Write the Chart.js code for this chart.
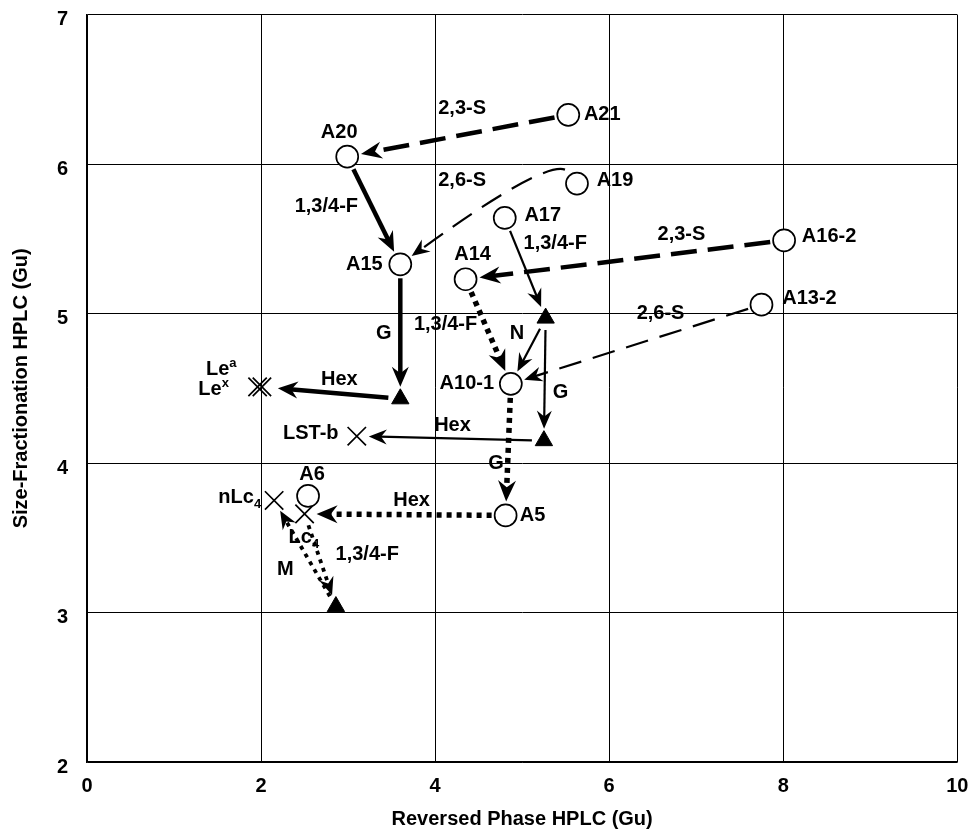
<!DOCTYPE html>
<html><head><meta charset="utf-8">
<script src="https://cdn.jsdelivr.net/npm/chart.js@4"></script>
<style>html,body{margin:0;padding:0;background:#fff}#wrap{width:972px;height:833px;position:relative}</style>
</head><body><div id="wrap"><canvas id="c"></canvas></div>
<script>
// ---------- data ----------
const circleNames = ['A21','A20','A19','A17','A16-2','A15','A14','A13-2','A10-1','A5','A6'];
const circleX = [5.53, 2.99, 5.63, 4.80, 8.01, 3.60, 4.35, 7.75, 4.87, 4.81, 2.54];
const circleY = [6.33, 6.05, 5.87, 5.64, 5.49, 5.33, 5.23, 5.06, 4.53, 3.65, 3.78];

const triangleNames = ['T1','T2','T3','T4'];
const triangleX = [3.60, 5.27, 5.25, 2.86];
const triangleY = [4.43, 4.97, 4.15, 3.04];

const crossNames = ['Le-a','Le-x','LST-b','nLc4','Lc4'];
const crossX = [1.96, 2.01, 3.10, 2.15, 2.50];
const crossY = [4.51, 4.51, 4.18, 3.75, 3.66];

const arrowFrom  = ['A21','A20','A19','A16-2','A17','A14','T2','A13-2','A15','T1','T2','T3','A10-1','A5','Lc4','T4'];
const arrowTo    = ['A20','A15','A15','A14','T2','A10-1','A10-1','A10-1','T1','Le-x','T3','LST-b','A5','Lc4','T4','nLc4'];
const arrowLabel = ['2,3-S','1,3/4-F','2,6-S','2,3-S','1,3/4-F','1,3/4-F','N','2,6-S','G','Hex','G','Hex','G','Hex','1,3/4-F','M'];
const arrowLabelX = [4.31, 2.75, 4.31, 6.83, 5.38, 4.12, 4.94, 6.59, 3.41, 2.90, 5.44, 4.20, 4.70, 3.73, 3.22, 2.28];
const arrowLabelY = [6.37, 5.72, 5.89, 5.53, 5.47, 4.93, 4.87, 5.00, 4.87, 4.56, 4.47, 4.25, 4.00, 3.75, 3.39, 3.29];
const arrowKind  = ['thickDash','solidThick','curveDash','thickDash','solidThin','dotThick','solidThin','thinDash','solidThick','solidThick','solidThin','solidThin','dotThick','dotThick','dotThin','dotThin'];

const xTicks = [0, 2, 4, 6, 8, 10];
const yTicks = [2, 3, 4, 5, 6, 7];
const xTitle = 'Reversed Phase HPLC (Gu)';
const yTitle = 'Size-Fractionation HPLC (Gu)';

// ---------- styles ----------
const FONT = '"Liberation Sans", Arial, Helvetica, sans-serif';
const KIND = {
  thickDash:  {w: 4.5, dash: [26, 11], L: 21, W: 8.5},
  thinDash:   {w: 2.2, dash: [23, 12], L: 18, W: 7.5},
  curveDash:  {w: 2.2, dash: [23, 12], L: 18, W: 7.5, startOff: [-12, -14], ctrl: [-23, -8]},
  solidThick: {w: 4.5, dash: [], L: 20, W: 8.5},
  solidThin:  {w: 2.2, dash: [], L: 18, W: 7.5},
  dotThick:   {w: 5.5, dash: [5, 5], L: 21, W: 9},
  dotThin:    {w: 3.8, dash: [4, 5], L: 18, W: 7.5}
};
const GAP = {circle: 14, triangle: 12, cross: 12, 'Le-x': 16};

const pointLabels = {
  'A21':   {parts: [['A21']], dx: 34, dy: 0},
  'A20':   {parts: [['A20']], dx: -8, dy: -24},
  'A19':   {parts: [['A19']], dx: 38, dy: -3},
  'A17':   {parts: [['A17']], dx: 38, dy: -2},
  'A16-2': {parts: [['A16-2']], dx: 45, dy: -4},
  'A15':   {parts: [['A15']], dx: -36, dy: 0},
  'A14':   {parts: [['A14']], dx: 7, dy: -25},
  'A13-2': {parts: [['A13-2']], dx: 48, dy: -6},
  'A10-1': {parts: [['A10-1']], dx: -44, dy: 0},
  'A5':    {parts: [['A5']], dx: 27, dy: 0},
  'A6':    {parts: [['A6']], dx: 4, dy: -21},
  'LST-b': {parts: [['LST-b']], dx: -46, dy: -3},
  'Le-a':  {parts: [['Le'], ['a', 'sup']], dx: -21, dy: -17, align: 'right'},
  'Le-x':  {parts: [['Le'], ['x', 'sup']], dx: -33, dy: 3, align: 'right'},
  'nLc4':  {parts: [['nLc'], ['4', 'sub']], dx: -13, dy: -3, align: 'right'},
  'Lc4':   {parts: [['Lc'], ['4', 'sub']], dx: -16, dy: 24, align: 'left'}
};

// ---------- helpers ----------
const nodes = {};
circleNames.forEach((n, i) => nodes[n] = {x: circleX[i], y: circleY[i], type: 'circle'});
triangleNames.forEach((n, i) => nodes[n] = {x: triangleX[i], y: triangleY[i], type: 'triangle'});
crossNames.forEach((n, i) => nodes[n] = {x: crossX[i], y: crossY[i], type: 'cross'});

function drawRich(ctx, parts, x, y, align) {
  const nf = 'bold 20px ' + FONT, sf = 'bold 13px ' + FONT;
  const ws = parts.map(p => { ctx.font = p[1] ? sf : nf; return ctx.measureText(p[0]).width; });
  const total = ws.reduce((a, b) => a + b, 0);
  let cx = align === 'right' ? x - total : align === 'left' ? x : x - total / 2;
  ctx.textAlign = 'left';
  ctx.textBaseline = 'middle';
  parts.forEach((p, i) => {
    ctx.font = p[1] ? sf : nf;
    const oy = p[1] === 'sup' ? -6 : p[1] === 'sub' ? 7 : 0;
    ctx.fillText(p[0], cx, y + oy);
    cx += ws[i];
  });
}

function arrowHead(ctx, tip, dir, L, W) {
  const nx = -dir[1], ny = dir[0];
  const bx = tip[0] - dir[0] * L, by = tip[1] - dir[1] * L;
  const mx = tip[0] - dir[0] * L * 0.68, my = tip[1] - dir[1] * L * 0.68;
  ctx.setLineDash([]);
  ctx.beginPath();
  ctx.moveTo(tip[0], tip[1]);
  ctx.lineTo(bx + nx * W, by + ny * W);
  ctx.lineTo(mx, my);
  ctx.lineTo(bx - nx * W, by - ny * W);
  ctx.closePath();
  ctx.fill();
}

const arrowPlugin = {
  id: 'arrows',
  beforeDatasetsDraw(chart) {
    const {ctx, scales: {x, y}} = chart;
    ctx.save();
    ctx.strokeStyle = '#000';
    ctx.fillStyle = '#000';
    ctx.lineCap = 'butt';
    arrowFrom.forEach((f, i) => {
      const a = nodes[f], b = nodes[arrowTo[i]];
      const k = KIND[arrowKind[i]];
      const pa = [x.getPixelForValue(a.x), y.getPixelForValue(a.y)];
      const pb = [x.getPixelForValue(b.x), y.getPixelForValue(b.y)];
      const gA = GAP[f] || GAP[a.type], gB = GAP[arrowTo[i]] || GAP[b.type];
      ctx.lineWidth = k.w;
      ctx.setLineDash(k.dash);
      if (k.ctrl) {
        const s = [pa[0] + k.startOff[0], pa[1] + k.startOff[1]];
        const c = [s[0] + k.ctrl[0], s[1] + k.ctrl[1]];
        let d = [pb[0] - c[0], pb[1] - c[1]];
        const dl = Math.hypot(d[0], d[1]); d = [d[0] / dl, d[1] / dl];
        const tip = [pb[0] - d[0] * gB, pb[1] - d[1] * gB];
        const end = [tip[0] - d[0] * k.L * 0.6, tip[1] - d[1] * k.L * 0.6];
        ctx.beginPath();
        ctx.moveTo(s[0], s[1]);
        ctx.quadraticCurveTo(c[0], c[1], end[0], end[1]);
        ctx.stroke();
        arrowHead(ctx, tip, d, k.L, k.W);
      } else {
        let d = [pb[0] - pa[0], pb[1] - pa[1]];
        const dl = Math.hypot(d[0], d[1]); d = [d[0] / dl, d[1] / dl];
        const s = [pa[0] + d[0] * gA, pa[1] + d[1] * gA];
        const tip = [pb[0] - d[0] * gB, pb[1] - d[1] * gB];
        const end = [tip[0] - d[0] * k.L * 0.6, tip[1] - d[1] * k.L * 0.6];
        ctx.beginPath();
        ctx.moveTo(s[0], s[1]);
        ctx.lineTo(end[0], end[1]);
        ctx.stroke();
        arrowHead(ctx, tip, d, k.L, k.W);
      }
    });
    ctx.restore();
  },
  afterDatasetsDraw(chart) {
    const {ctx, scales: {x, y}} = chart;
    ctx.save();
    ctx.fillStyle = '#000';
    arrowLabel.forEach((t, i) => {
      drawRich(ctx, [[t]], x.getPixelForValue(arrowLabelX[i]), y.getPixelForValue(arrowLabelY[i]), 'center');
    });
    Object.keys(pointLabels).forEach(n => {
      const p = nodes[n], l = pointLabels[n];
      drawRich(ctx, l.parts, x.getPixelForValue(p.x) + l.dx, y.getPixelForValue(p.y) + l.dy, l.align || 'center');
    });
    ctx.restore();
  }
};

const zip = (xs, ys) => xs.map((v, i) => ({x: v, y: ys[i]}));

new Chart(document.getElementById('c'), {
  type: 'scatter',
  data: {
    datasets: [
      {label: 'circles', data: zip(circleX, circleY), pointStyle: 'circle', pointRadius: 11,
       borderColor: '#000', backgroundColor: '#fff', borderWidth: 1.7},
      {label: 'triangles', data: zip(triangleX, triangleY), pointStyle: 'triangle', pointRadius: 10,
       borderColor: '#000', backgroundColor: '#000', borderWidth: 1},
      {label: 'crosses', data: zip(crossX, crossY), pointStyle: 'crossRot', pointRadius: 13,
       borderColor: '#000', backgroundColor: '#000', borderWidth: 1.7}
    ]
  },
  options: {
    responsive: true,
    maintainAspectRatio: false,
    animation: false,
    events: [],
    layout: {padding: {top: 12, right: 12, left: 0, bottom: 0}},
    plugins: {legend: {display: false}, tooltip: {enabled: false}},
    scales: {
      x: {
        type: 'linear', min: 0, max: 10,
        afterBuildTicks: s => { s.ticks = xTicks.map(v => ({value: v})); },
        afterFit: s => { s.height = 71; s.paddingLeft = 0; s.paddingRight = 0; },
        grid: {color: '#000', lineWidth: 1, drawTicks: false},
        border: {display: true, color: '#000', width: 1.6},
        ticks: {color: '#000', padding: 12, font: {family: FONT, size: 20, weight: 'bold'}},
        title: {display: true, text: xTitle, color: '#000', padding: {top: 0, bottom: 2},
                font: {family: FONT, size: 20, weight: 'bold'}}
      },
      y: {
        type: 'linear', min: 2, max: 7,
        afterBuildTicks: s => { s.ticks = yTicks.map(v => ({value: v})); },
        afterFit: s => { s.width = 87; s.paddingTop = 0; s.paddingBottom = 0; },
        grid: {color: '#000', lineWidth: 1, drawTicks: false},
        border: {display: true, color: '#000', width: 1.6},
        ticks: {color: '#000', padding: 19, labelOffset: 5, font: {family: FONT, size: 20, weight: 'bold'}},
        title: {display: true, text: yTitle, color: '#000', padding: {top: 9, bottom: 0},
                font: {family: FONT, size: 20, weight: 'bold'}}
      }
    }
  },
  plugins: [arrowPlugin]
});
</script>
</body></html>
